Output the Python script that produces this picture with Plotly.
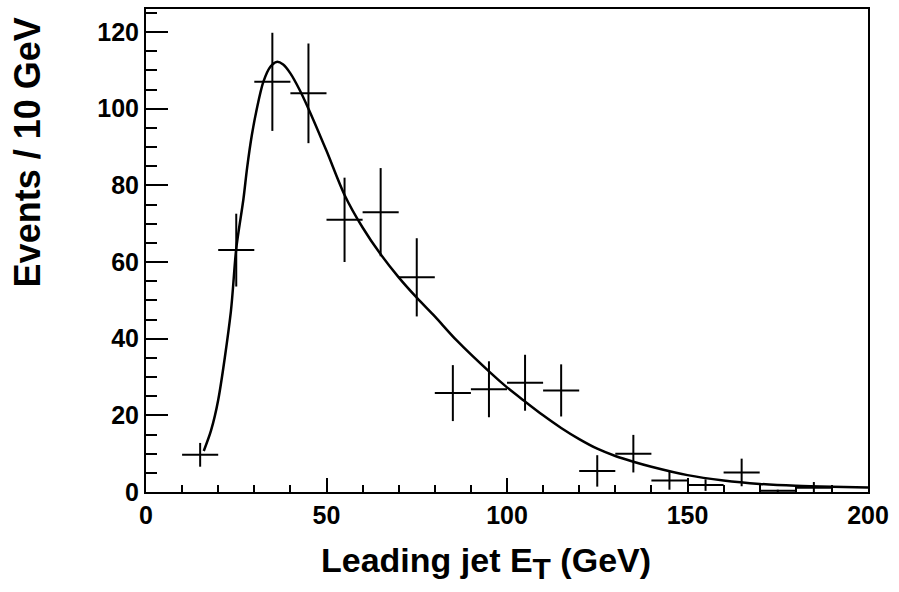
import plotly.graph_objects as go

# Data points (bin centres, contents, errors)
bin_centers = [15, 25, 35, 45, 55, 65, 75, 85, 95, 105, 115, 125, 135, 145, 155, 165, 175, 185]
events = [9.7, 63.1, 107, 104, 71, 73, 56, 25.8, 26.8, 28.5, 26.5, 5.5, 10, 3.0, 1.8, 5.1, 0.3, 1.1]
errors = [3.1, 9.5, 12.8, 13, 11, 11.5, 10.2, 7.3, 7.3, 7.3, 6.8, 4.1, 4.9, 2.4, 1.5, 3.6, 0.3, 1.5]
bin_half_width = [5] * len(bin_centers)

# Fitted curve
curve_x = [16, 18, 20, 23.5, 25, 27, 28, 29.3, 30.7, 32.5, 34.5, 36.2, 38, 40, 42.5, 45,
           50, 55, 60, 65, 70, 75, 80, 86, 95.3, 100, 105, 110, 115, 120, 125, 130,
           135, 140, 150, 160, 170, 180, 190, 200]
curve_y = [10.7, 16, 24, 47, 63.5, 76.5, 84.5, 93, 100, 107, 111, 112.2, 111.5, 109.2, 105, 100,
           89, 77.5, 69, 62, 56, 50.7, 45.8, 39.6, 31.2, 27.3, 23.6, 20.0, 16.7, 13.8, 11.3, 9.4,
           7.9, 6.6, 4.4, 3.0, 2.1, 1.6, 1.35, 1.2]

x_tick_vals = [0, 50, 100, 150, 200]
y_tick_vals = [0, 20, 40, 60, 80, 100, 120]

FONT = "Liberation Sans, Arial, Helvetica, sans-serif"

fig = go.Figure()
fig.add_trace(go.Scatter(
    x=curve_x, y=curve_y, mode="lines",
    line=dict(color="black", width=2.5, shape="spline", smoothing=0.8),
    hoverinfo="skip", showlegend=False))
fig.add_trace(go.Scatter(
    x=bin_centers, y=events, mode="markers",
    marker=dict(size=1, color="black"),
    error_x=dict(type="data", array=bin_half_width, width=0, thickness=2, color="black"),
    error_y=dict(type="data", array=errors, width=0, thickness=2, color="black"),
    showlegend=False))

L, R, T, B = 146, 31, 7, 100
W, H = 899, 592
pw = W - L - R
ph = H - T - B


def px(xp):
    return (xp - L) / pw


def py(yp):
    return (H - B - yp) / ph


tickfont = dict(family=FONT, size=25, color="black", weight="bold")

fig.update_layout(
    width=W, height=H,
    margin=dict(l=L, r=R, t=T, b=B),
    paper_bgcolor="white", plot_bgcolor="white",
    font=dict(family=FONT, color="black"),
    xaxis=dict(
        range=[0, 200], tickvals=x_tick_vals, ticks="inside", ticklen=14, tickwidth=2,
        tickcolor="black", showline=True, linewidth=2, linecolor="black", mirror=True,
        showgrid=False, zeroline=False, tickfont=tickfont,
        minor=dict(dtick=10, tick0=0, ticks="inside", ticklen=7, tickwidth=2,
                   tickcolor="black", showgrid=False),
    ),
    yaxis=dict(
        range=[0, 126], tickvals=y_tick_vals, ticks="inside", ticklen=22, tickwidth=2,
        tickcolor="black", showline=True, linewidth=2, linecolor="black", mirror=True,
        showgrid=False, zeroline=False, tickfont=tickfont,
        minor=dict(dtick=5, tick0=0, ticks="inside", ticklen=11, tickwidth=2,
                   tickcolor="black", showgrid=False),
    ),
    annotations=[
        dict(text="<b>Events / 10 GeV</b>", textangle=-90, xref="paper", yref="paper",
             x=px(27), y=py(151), xanchor="center", yanchor="middle", showarrow=False,
             font=dict(family=FONT, size=36, color="black")),
        dict(text="<b>Leading jet E<sub><span style='font-size:30px'>T</span></sub> (GeV)</b>",
             xref="paper", yref="paper",
             x=px(486), y=py(563), xanchor="center", yanchor="middle", showarrow=False,
             font=dict(family=FONT, size=34, color="black")),
    ],
)

fig.write_html("out.html", config={"displayModeBar": False},
               post_script="document.body.style.margin='0';document.body.style.padding='0';")
